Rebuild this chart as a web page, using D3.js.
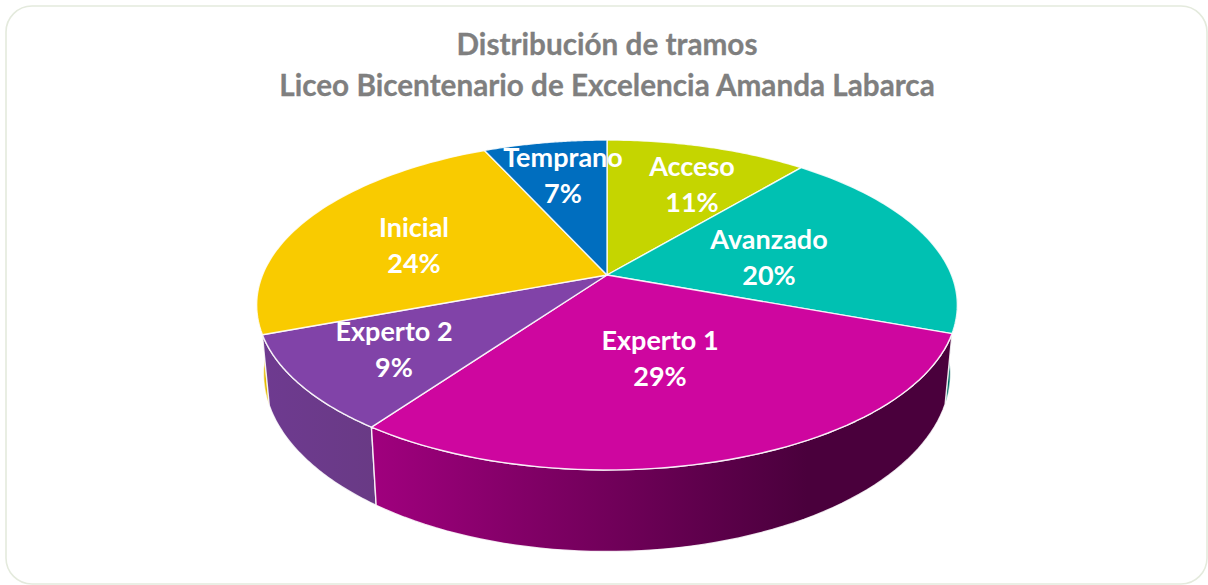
<!DOCTYPE html>
<html><head><meta charset="utf-8">
<script src="https://cdn.jsdelivr.net/npm/d3@7"></script>
<style>html,body{margin:0;padding:0;background:#fff}svg{display:block}</style>
</head><body><svg id="c" width="1208" height="585"></svg>
<script>
const titleLines = ["Distribución de tramos", "Liceo Bicentenario de Excelencia Amanda Labarca"];
const categories = ["Acceso", "Avanzado", "Experto 1", "Experto 2", "Inicial", "Temprano"];
const shares = [11.1, 19.5, 29.3, 9.4, 23.9, 6.8];
const topColors = ["#C5D500", "#00C1B2", "#CE069F", "#8143A8", "#F9CB00", "#006EBF"];
const sideStart = ["#C5D500", "#00746C", "#A0007E", "#6E3A90", "#E3B900", "#004A80"];
const sideEnd   = ["#C5D500", "#00544E", "#4A003C", "#693A85", "#E3B900", "#004A80"];

const svg = d3.select("#c");
svg.append("rect").attr("x", 6).attr("y", 6).attr("width", 1201).attr("height", 578)
  .attr("rx", 26).attr("fill", "#fff").attr("stroke", "#E4EADD").attr("stroke-width", 1.6);

const font = "Lato, Carlito, Calibri, sans-serif";
svg.append("g").selectAll("text").data(titleLines).join("text")
  .attr("x", 607).attr("y", (d, i) => 55 + i * 41)
  .attr("text-anchor", "middle").attr("font-family", font).attr("font-weight", 700)
  .attr("font-size", 29.7).attr("fill", "#7F7F7F").attr("stroke", "#7F7F7F").attr("stroke-width", 0.3).text(d => d);

// perspective projection of the unit disc onto the screen
const cx = 607, cy = 275, C = 344.5, B = 159.5, k = 0.1818;
const topP = a => {
  const u = Math.sin(a), v = -Math.cos(a), w = 1 - k * v;
  return [cx + C * u / w, cy + B * v / w];
};
const botP = a => {
  const [x, y] = topP(a);
  return [cx + (x - cx) * 0.98, 341 + 1.08 * (y - cy)];
};

const arcs = d3.pie().sort(null).value(d => d)(shares);
const sample = (a0, a1) => d3.range(0, 61).map(i => a0 + (a1 - a0) * i / 60);
const line = d3.line();
const defs = svg.append("defs");

// side walls, back to front
const sides = svg.append("g");
[1, 4, 3, 2].forEach(i => {
  const d = arcs[i];
  const a0 = Math.max(d.startAngle, Math.PI / 2), a1 = Math.min(d.endAngle, Math.PI * 1.5);
  const pts = sample(a0, a1);
  const poly = pts.map(a => topP(a)).concat(pts.slice().reverse().map(a => botP(a)));
  const xs = poly.map(p => p[0]);
  const id = "g" + i;
  const g = defs.append("linearGradient").attr("id", id).attr("gradientUnits", "userSpaceOnUse")
    .attr("x1", d3.min(xs)).attr("x2", d3.max(xs)).attr("y1", 0).attr("y2", 0);
  g.append("stop").attr("offset", 0).attr("stop-color", sideStart[i]);
  if (i === 2) g.append("stop").attr("offset", 0.75).attr("stop-color", sideEnd[i]);
  g.append("stop").attr("offset", 1).attr("stop-color", sideEnd[i]);
  sides.append("path").attr("d", line(poly) + "Z").attr("fill", `url(#${id})`)
    .attr("stroke", "#fff").attr("stroke-width", 1.4).attr("stroke-opacity", i === 1 || i === 4 ? 0.5 : 0.85)
    .attr("stroke-linejoin", "round");
});

// top face
svg.append("g").selectAll("path").data(arcs).join("path")
  .attr("d", d => line([[cx, cy]].concat(sample(d.startAngle, d.endAngle).map(a => topP(a)))) + "Z")
  .attr("fill", (d, i) => topColors[i])
  .attr("stroke", "#fff").attr("stroke-opacity", 0.85).attr("stroke-width", 1.4).attr("stroke-linejoin", "round");

// labels
const lab = svg.append("g").attr("font-family", font).attr("font-weight", 700)
  .attr("font-size", 27).attr("fill", "#fff").attr("text-anchor", "middle");
const labelPos = [[692, 176], [769, 249], [660, 350], [394, 341], [414, 237], [563, 167]];
categories.forEach((c, i) => {
  lab.append("text").attr("x", labelPos[i][0]).attr("y", labelPos[i][1]).text(c);
  lab.append("text").attr("x", labelPos[i][0]).attr("y", labelPos[i][1] + 36).text(Math.round(shares[i]) + "%");
});
</script></body></html>
